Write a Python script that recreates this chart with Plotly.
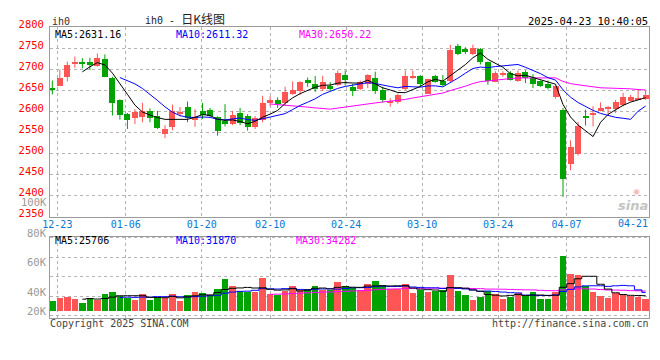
import plotly.graph_objects as go
import pandas as pd

# ---------------- data ----------------
opens = [2655, 2661, 2682, 2713, 2717, 2717, 2707, 2724, 2680, 2627,
         2593, 2583, 2587, 2601, 2589, 2546, 2563, 2595, 2610, 2580,
         2601, 2603, 2587, 2578, 2570, 2595, 2589, 2563, 2580, 2620,
         2627, 2620, 2640, 2648, 2674, 2665, 2654, 2661, 2663, 2686,
         2658, 2652, 2665, 2678, 2650, 2620, 2622, 2654, 2679, 2683,
         2642, 2683, 2672, 2671, 2755, 2748, 2736, 2748, 2717, 2670,
         2687, 2692, 2673, 2694, 2680, 2671, 2664, 2633, 2604, 2476,
         2498, 2590, 2592, 2600, 2606, 2606, 2614, 2625, 2629, 2629]
highs = [2673, 2699, 2718, 2730, 2726, 2727, 2737, 2735, 2682, 2628,
         2596, 2605, 2620, 2607, 2601, 2567, 2616, 2610, 2623, 2605,
         2620, 2608, 2588, 2617, 2601, 2608, 2593, 2589, 2637, 2636,
         2633, 2658, 2671, 2671, 2680, 2684, 2684, 2669, 2697, 2697,
         2665, 2673, 2688, 2694, 2658, 2631, 2642, 2697, 2697, 2686,
         2677, 2686, 2686, 2758, 2760, 2752, 2758, 2750, 2718, 2695,
         2695, 2695, 2697, 2697, 2688, 2673, 2673, 2661, 2608, 2531,
         2575, 2604, 2612, 2621, 2613, 2627, 2644, 2639, 2652, 2648]
lows = [2640, 2660, 2671, 2703, 2702, 2698, 2706, 2681, 2590, 2580,
        2558, 2570, 2574, 2574, 2558, 2536, 2555, 2588, 2574, 2563,
        2582, 2587, 2542, 2564, 2567, 2567, 2554, 2558, 2574, 2612,
        2608, 2614, 2639, 2639, 2658, 2646, 2648, 2648, 2660, 2661,
        2636, 2650, 2655, 2641, 2621, 2611, 2618, 2650, 2677, 2658,
        2642, 2668, 2659, 2669, 2733, 2736, 2733, 2711, 2663, 2669,
        2682, 2673, 2670, 2667, 2655, 2658, 2652, 2630, 2397, 2460,
        2495, 2566, 2564, 2600, 2593, 2596, 2612, 2623, 2627, 2627]
closes = [2651, 2678, 2709, 2717, 2713, 2711, 2727, 2682, 2620, 2592,
          2580, 2599, 2601, 2584, 2561, 2559, 2601, 2599, 2584, 2586,
          2591, 2590, 2554, 2571, 2591, 2573, 2563, 2583, 2620, 2627,
          2617, 2646, 2650, 2669, 2667, 2654, 2669, 2652, 2692, 2674,
          2648, 2669, 2686, 2648, 2627, 2623, 2639, 2684, 2684, 2665,
          2677, 2670, 2662, 2746, 2736, 2740, 2751, 2718, 2671, 2690,
          2692, 2675, 2692, 2679, 2665, 2660, 2656, 2661, 2439, 2516,
          2566, 2583, 2596, 2608, 2610, 2621, 2635, 2635, 2632, 2638]
volumes = [17700, 22500, 24100, 20900, 14500, 22500, 18700, 28900, 32100, 25700,
           23000, 18700, 28900, 19300, 23600, 21400, 28900, 17700, 27300, 32100,
           30500, 27300, 37000, 53000, 41800, 33700, 31600, 32100, 54600, 29500,
           26800, 33700, 41800, 35400, 37000, 41800, 35900, 34800, 48200, 41800,
           38000, 34800, 45000, 49800, 43400, 36400, 36400, 45000, 30500, 34800,
           31600, 33700, 34800, 61100, 33700, 27300, 19300, 24100, 33700, 28400,
           20900, 24100, 30500, 25700, 32700, 20900, 20900, 32100, 91600, 62700,
           61100, 41800, 32100, 25700, 22500, 30500, 27300, 25700, 24100, 20900]

tick_dates = ["12-23", "01-06", "01-20", "02-10", "02-24", "03-10", "03-24", "04-07"]
tick_bar_idx = [1, 10, 20, 29, 39, 49, 59, 68]
last_date_label = "04-21"
price_ticks = [2350, 2400, 2450, 2500, 2550, 2600, 2650, 2700, 2750, 2800]

ma_price_labels = ["MA5:2631.16", "MA10:2611.32", "MA30:2650.22"]
ma_vol_labels = ["MA5:25706", "MA10:31870", "MA30:34282"]
vol_axis_labels = ["100K", "80K", "60K", "40K", "20K"]

# ---------------- styling ----------------
RED = "#ff5555"
GREEN = "#00a300"
MONO = "DejaVu Sans Mono"
OFF = 8  # the page body has an 8px margin; the figure is drawn 8px in
W, H = 660 - OFF, 360 - OFF
L, R, T, B = 50 - OFF, 11, 18 - OFF, 42
PW, PH = W - L - R, H - T - B


def px(x):
    # reference window pixel -> paper fraction
    return (x - OFF - L) / PW


def py(y):
    return (H - B - (y - OFF)) / PH


n = len(closes)
idx = list(range(n))
up = [c >= o for o, c in zip(opens, closes)]
colors = [RED if u else GREEN for u in up]

cs = pd.Series(closes, dtype=float)
vs = pd.Series(volumes, dtype=float)
ma = {k: cs.rolling(k).mean() for k in (5, 10, 30)}
vma = {k: vs.rolling(k).mean() for k in (5, 10, 30)}

fig = go.Figure()

# wicks
for col, flag in ((RED, True), (GREEN, False)):
    wx, wy = [], []
    for i in idx:
        if up[i] == flag:
            wx += [i, i, None]
            wy += [lows[i], highs[i], None]
    fig.add_trace(go.Scatter(x=wx, y=wy, mode="lines",
                             line=dict(color=col, width=1),
                             hoverinfo="skip", showlegend=False,
                             xaxis="x", yaxis="y"))

# candle bodies
bases = [min(o, c) for o, c in zip(opens, closes)]
heights = [max(abs(c - o), 1.5) for o, c in zip(opens, closes)]
fig.add_trace(go.Bar(x=idx, y=heights, base=bases, width=0.8,
                     marker=dict(color=colors, line=dict(width=0)),
                     hoverinfo="skip", showlegend=False,
                     xaxis="x", yaxis="y"))

ma_cols = {5: "#000000", 10: "#0000ff", 30: "#ff00ff"}
for k in (30, 10, 5):
    fig.add_trace(go.Scatter(x=idx, y=ma[k], mode="lines",
                             line=dict(color=ma_cols[k], width=1),
                             hoverinfo="skip", showlegend=False,
                             xaxis="x", yaxis="y"))

# volume
fig.add_trace(go.Bar(x=idx, y=volumes, width=0.88,
                     marker=dict(color=colors, line=dict(width=0)),
                     hoverinfo="skip", showlegend=False,
                     xaxis="x2", yaxis="y2"))
for k in (30, 10, 5):
    fig.add_trace(go.Scatter(x=idx, y=vma[k], mode="lines",
                             line=dict(color=ma_cols[k], width=1, shape="hvh"),
                             hoverinfo="skip", showlegend=False,
                             xaxis="x2", yaxis="y2"))

# gridline positions for the date ticks (the grid spacing drifts slightly
# against the candle spacing in the original)
tick_pos = [0.67 + (t - 1) * 1.012 for t in tick_bar_idx]

GRID = "#b4b4b4"
FRAME = "#9a9a9a"
xr = [-0.31, 79.45]

common_x = dict(range=xr, tickvals=tick_pos, ticktext=tick_dates,
                showgrid=True, gridcolor=GRID, griddash="dot", gridwidth=1,
                showline=True, linecolor=FRAME, linewidth=1, mirror=True,
                zeroline=False, ticks="", fixedrange=True)

fig.update_layout(
    width=W, height=H,
    margin=dict(l=L, r=R, t=T, b=B, pad=0),
    paper_bgcolor="white", plot_bgcolor="white",
    barmode="overlay", bargap=0,
    showlegend=False,
    xaxis=dict(**common_x, anchor="y", domain=[0, 1], ticklabelstandoff=-2,
               tickfont=dict(family=MONO, size=10, color="#0a78d2")),
    yaxis=dict(domain=[py(213.5), 1], range=[2350, 2800], tickvals=price_ticks,
               showgrid=True, gridcolor=GRID, griddash="dot", gridwidth=1,
               showline=True, linecolor=FRAME, linewidth=1, mirror=True,
               zeroline=False, ticks="", ticklabelstandoff=3, ticklabelshift=-3,
               tickfont=dict(family=MONO, size=10.5, color="#ff0000")),
    xaxis2=dict(**common_x, anchor="y2", domain=[0, 1], showticklabels=False),
    yaxis2=dict(domain=[0, py(234.3)], range=[-11250, 123260],
                tick0=25200, dtick=32100,
                showgrid=True, gridcolor=GRID, griddash="dot", gridwidth=1,
                showline=True, linecolor=FRAME, linewidth=1, mirror=True,
                zeroline=False, ticks="", showticklabels=False),
)

ann = []


def add(text, x, y, xanchor="left", color="#000000", size=10, family=MONO,
        yanchor="middle", **kw):
    ann.append(dict(text=text, x=px(x), y=py(y), xref="paper", yref="paper",
                    xanchor=xanchor, yanchor=yanchor, showarrow=False,
                    borderpad=0,
                    font=dict(family=family, size=size, color=color), **kw))


add("ih0", 51, 19, color="#333333", yanchor="bottom")
add('ih0 - <span style="font-family:Noto Sans CJK SC;font-size:12px">日K线图</span>',
    185, 19, xanchor="center", color="#222222", yanchor="bottom")
add("2025-04-23 10:40:05", 649, 19.5, xanchor="right", color="#000000", size=10.5,
    yanchor="bottom")

for txt, x0, c in zip(ma_price_labels, (54, 175, 298), ("#000000", "#0000ff", "#ff00ff")):
    add(txt, x0, 19.5, color=c, yanchor="top")
for txt, x0, c in zip(ma_vol_labels, (54, 175, 295), ("#000000", "#0000ff", "#ff00ff")):
    add(txt, x0, 238.5, color=c)
for txt, y0 in zip(vol_axis_labels, (198.5, 230, 260.7, 291, 310.7)):
    add(txt, 47.5, y0, xanchor="right", color="#999999", size=10.5)

add(last_date_label, 648.5, 221, xanchor="right", color="#0a78d2")
add("Copyright 2025 SINA.COM", 49, 323.5, color="#444444")
add("http://finance.sina.com.cn", 649.5, 323.5, xanchor="right", color="#444444")
add("<b><i>sina</i></b>", 633, 202, xanchor="center", color="#c4c4c4", size=13,
    family="DejaVu Sans")
add("◉", 636, 188, xanchor="center", color="#f3b8b8", size=8, family="DejaVu Sans")

fig.update_layout(annotations=ann)

fig.write_html("out.html")
